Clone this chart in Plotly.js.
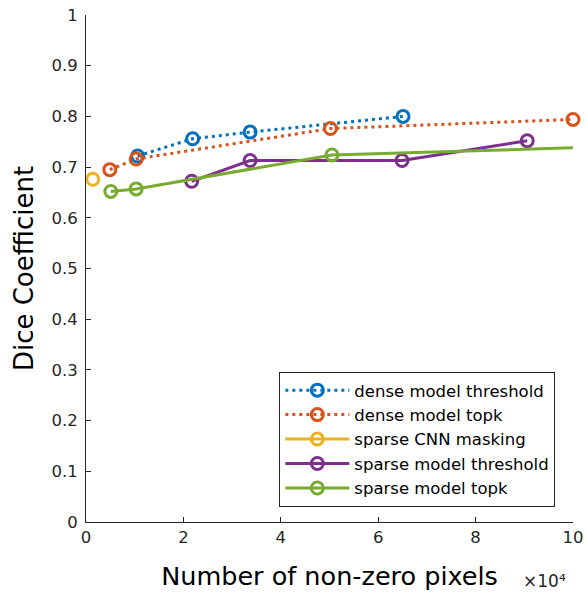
<!DOCTYPE html>
<html>
<head>
<meta charset="utf-8">
<script src="https://cdn.plot.ly/plotly-3.0.1.min.js"></script>
<style>html,body{margin:0;padding:0;background:#fff;}#chart{width:587px;height:596px;}</style>
</head>
<body>
<div id="chart"></div>
<script>
// x values in units of 10^4 non-zero pixels
var denseThresholdX = [1.06, 2.19, 3.37, 6.51];
var denseThresholdY = [0.722, 0.756, 0.769, 0.800];
var denseTopkX = [0.49, 1.03, 5.02, 10.0];
var denseTopkY = [0.695, 0.716, 0.776, 0.794];
var cnnMaskX = [0.14];
var cnnMaskY = [0.676];
var sparseThresholdX = [2.17, 3.37, 6.49, 9.06];
var sparseThresholdY = [0.672, 0.713, 0.713, 0.752];
var sparseTopkX = [0.51, 1.03, 5.05, 10.02];
var sparseTopkY = [0.652, 0.657, 0.724, 0.738];

var seriesNames = ['dense model threshold', 'dense model topk', 'sparse CNN masking', 'sparse model threshold', 'sparse model topk'];
var seriesColors = ['#0072BD', '#D95319', '#EDB120', '#7E2F8E', '#77AC30'];
var xTicks = [0, 2, 4, 6, 8, 10];
var yTicks = [0, 0.1, 0.2, 0.3, 0.4, 0.5, 0.6, 0.7, 0.8, 0.9, 1];
var yTickText = ['0', '0.1', '0.2', '0.3', '0.4', '0.5', '0.6', '0.7', '0.8', '0.9', '1'];

var xs = [denseThresholdX, denseTopkX, cnnMaskX, sparseThresholdX, sparseTopkX];
var ys = [denseThresholdY, denseTopkY, cnnMaskY, sparseThresholdY, sparseTopkY];
var dashes = ['3px,4px', '3px,4px', 'solid', 'solid', 'solid'];

var traces = seriesNames.map(function (n, i) {
  return {
    type: 'scatter', mode: 'lines+markers', name: n,
    x: xs[i], y: ys[i],
    line: {color: seriesColors[i], width: 3, dash: dashes[i]},
    marker: {symbol: 'circle-open', size: 12, color: seriesColors[i], line: {width: 3, color: seriesColors[i]}},
    cliponaxis: false
  };
});

var fam = 'DejaVu Sans, Verdana, sans-serif';
var axisFont = {family: fam, size: 16.5, color: '#262626'};
var layout = {
  width: 587, height: 596,
  margin: {l: 86, r: 14, t: 15, b: 74},
  paper_bgcolor: '#fff', plot_bgcolor: '#fff',
  showlegend: true,
  font: axisFont,
  xaxis: {
    range: [0, 10], tickvals: xTicks, ticktext: xTicks.map(String),
    ticks: 'inside', ticklen: 5, tickcolor: '#262626', tickwidth: 1,
    showline: true, linecolor: '#262626', linewidth: 1, mirror: false,
    showgrid: false, zeroline: false, tickfont: axisFont,
    title: {text: 'Number of non-zero pixels', font: {family: fam, size: 25.5, color: '#000'}, standoff: 21}
  },
  yaxis: {
    range: [0, 1], tickvals: yTicks, ticktext: yTickText,
    ticks: 'inside', ticklen: 5, tickcolor: '#262626', tickwidth: 1,
    showline: true, linecolor: '#262626', linewidth: 1, mirror: false,
    showgrid: false, zeroline: false, tickfont: axisFont, ticklabelstandoff: 4,
    title: {text: 'Dice Coefficient', font: {family: fam, size: 26, color: '#000'}, standoff: 10}
  },
  legend: {
    x: 0.397, y: 0.296, xanchor: 'left', yanchor: 'top',
    bgcolor: '#fff', bordercolor: '#262626', borderwidth: 1,
    font: {family: fam, size: 16.5, color: '#000'},
    itemwidth: 64, traceorder: 'normal'
  },
  annotations: [{
    xref: 'paper', yref: 'paper', x: 0.893, y: -0.117, xanchor: 'left', yanchor: 'middle',
    text: '×10⁴', showarrow: false,
    font: {family: fam, size: 17, color: '#262626'}
  }]
};

Plotly.newPlot('chart', traces, layout, {displayModeBar: false, staticPlot: true});
</script>
</body>
</html>
